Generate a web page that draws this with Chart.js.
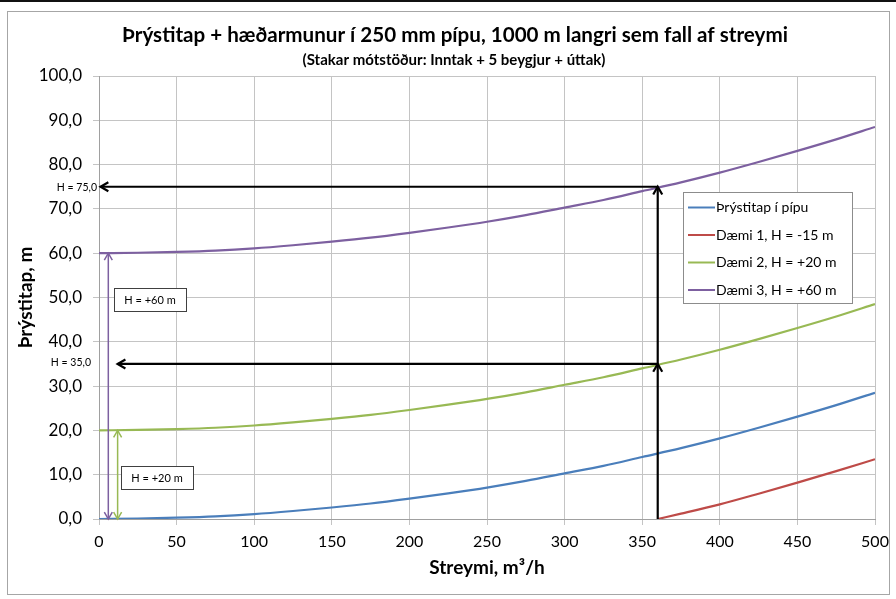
<!DOCTYPE html>
<html>
<head>
<meta charset="utf-8">
<script src="https://cdn.jsdelivr.net/npm/chart.js@4.4.1/dist/chart.umd.min.js"></script>
<style>
  html, body { margin: 0; padding: 0; background: #ffffff; }
  #wrap { width: 896px; height: 599px; position: relative; }
</style>
</head>
<body>
<div id="wrap"><canvas id="chart" width="896" height="599"></canvas></div>
<script>
// Flow rate (m3/h) at which the curves are sampled
const flow = [0, 25, 50, 75, 100, 125, 150, 175, 200, 225, 250, 275, 300, 325, 350, 375, 400, 425, 450, 475, 500];
// Friction head loss in the pipe (m)
const pipeLoss = [0.0, 0.1, 0.3, 0.6, 1.1, 1.8, 2.6, 3.5, 4.6, 5.8, 7.1, 8.6, 10.3, 12.0, 14.0, 16.0, 18.2, 20.6, 23.1, 25.7, 28.5];
// Example 1, H = -15 m (only positive from 360 m3/h)
const ex1Flow = [360, 375, 400, 425, 450, 475, 500];
const ex1Head = [0.0, 1.2, 3.3, 5.7, 8.2, 10.8, 13.5];
// Example 2, H = +20 m
const ex2Head = [20.0, 20.1, 20.3, 20.6, 21.1, 21.8, 22.6, 23.5, 24.6, 25.8, 27.1, 28.6, 30.3, 32.0, 34.0, 36.0, 38.2, 40.6, 43.1, 45.7, 48.5];
// Example 3, H = +60 m
const ex3Head = [60.0, 60.1, 60.3, 60.6, 61.1, 61.8, 62.6, 63.5, 64.6, 65.8, 67.1, 68.6, 70.3, 72.0, 74.0, 76.0, 78.2, 80.6, 83.1, 85.7, 88.5];

const seriesLabels = ['Þrýstitap í pípu', 'Dæmi 1, H = -15 m', 'Dæmi 2, H = +20 m', 'Dæmi 3, H = +60 m'];
const seriesColors = ['#4a7ebb', '#be4b48', '#98b954', '#7d60a0'];

const xTicks = [0, 50, 100, 150, 200, 250, 300, 350, 400, 450, 500];
const yTicks = [0, 10, 20, 30, 40, 50, 60, 70, 80, 90, 100];

const operatingFlow = 360;
const readHeads = [35, 75];
const readLabels = ['H = 35,0', 'H = 75,0'];
// Static head markers: flow position, head, label
const staticMarks = [
  { x: 6, h: 60, label: 'H = +60 m', color: '#7d60a0' },
  { x: 12, h: 20, label: 'H = +20 m', color: '#98b954' }
];

const titleText = 'Þrýstitap + hæðarmunur í 250 mm pípu, 1000 m langri sem fall af streymi';
const subtitleText = '(Stakar mótstöður: Inntak + 5 beygjur + úttak)';
const xTitle = 'Streymi, m³/h';
const yTitle = 'Þrýstitap, m';

const FONT = 'Lato, "Open Sans", sans-serif';
const fmt = v => v.toFixed(1).replace('.', ',');
const pts = (xs, ys) => xs.map((x, i) => ({ x: x, y: ys[i] }));

function arrowHead(ctx, x1, y1, x2, y2, len) {
  const a = Math.atan2(y2 - y1, x2 - x1);
  const s = Math.PI / 6;
  ctx.beginPath();
  ctx.moveTo(x2 - len * Math.cos(a - s), y2 - len * Math.sin(a - s));
  ctx.lineTo(x2, y2);
  ctx.lineTo(x2 - len * Math.cos(a + s), y2 - len * Math.sin(a + s));
  ctx.stroke();
}
function arrow(ctx, x1, y1, x2, y2, opts) {
  ctx.save();
  ctx.strokeStyle = opts.color;
  ctx.lineWidth = opts.width;
  ctx.lineCap = 'butt';
  ctx.lineJoin = 'miter';
  ctx.beginPath();
  ctx.moveTo(x1, y1);
  ctx.lineTo(x2, y2);
  ctx.stroke();
  arrowHead(ctx, x1, y1, x2, y2, opts.head);
  if (opts.both) arrowHead(ctx, x2, y2, x1, y1, opts.head);
  ctx.restore();
}
function labelBox(ctx, cx, cy, text, w, h) {
  ctx.save();
  ctx.fillStyle = '#ffffff';
  ctx.fillRect(cx - w / 2, cy - h / 2, w, h);
  ctx.strokeStyle = '#404040';
  ctx.lineWidth = 1;
  ctx.strokeRect(Math.round(cx - w / 2) + 0.5, Math.round(cy - h / 2) + 0.5, w, h);
  ctx.fillStyle = '#000000';
  ctx.font = '11px ' + FONT;
  ctx.textAlign = 'center';
  ctx.textBaseline = 'middle';
  ctx.fillText(text, cx, cy + 0.5);
  ctx.restore();
}

const decorations = {
  id: 'decorations',
  beforeDraw(chart) {
    const ctx = chart.ctx;
    ctx.save();
    ctx.fillStyle = '#ffffff';
    ctx.fillRect(0, 0, chart.width, chart.height);
    ctx.fillStyle = '#111111';
    ctx.fillRect(0, 0, chart.width, 2);
    ctx.strokeStyle = '#a6a6a6';
    ctx.lineWidth = 1;
    ctx.strokeRect(7.5, 11.5, 882, 583);
    ctx.fillStyle = '#000000';
    ctx.textAlign = 'center';
    ctx.textBaseline = 'alphabetic';
    ctx.font = 'bold 20.6px ' + FONT;
    ctx.fillText(titleText, 455, 42);
    ctx.font = 'bold 15px ' + FONT;
    ctx.fillText(subtitleText, 454, 65);
    const a = chart.chartArea;
    ctx.font = 'bold 19px ' + FONT;
    ctx.textBaseline = 'middle';
    ctx.fillText(xTitle, (a.left + a.right) / 2, 568);
    ctx.translate(26, (a.top + a.bottom) / 2);
    ctx.rotate(-Math.PI / 2);
    ctx.fillText(yTitle, 0, 0);
    ctx.restore();
  },
  afterDatasetsDraw(chart) {
    const ctx = chart.ctx;
    const xs = chart.scales.x, ys = chart.scales.y;
    const a = chart.chartArea;
    const px = xs.getPixelForValue(operatingFlow);
    const y0 = ys.getPixelForValue(0);
    const black = { color: '#000000', width: 2.2, head: 9 };

    // vertical arrows up to the read-off heads
    const yLow = ys.getPixelForValue(readHeads[0]);
    const yHigh = ys.getPixelForValue(readHeads[1]);
    arrow(ctx, px, y0, px, yLow, black);
    arrow(ctx, px, yLow, px, yHigh, black);
    // horizontal arrows to the head axis
    arrow(ctx, px, yHigh, xs.getPixelForValue(1), yHigh, black);
    arrow(ctx, px, yLow, xs.getPixelForValue(12), yLow, black);

    ctx.save();
    ctx.fillStyle = '#000000';
    ctx.font = '10.5px ' + FONT;
    ctx.textAlign = 'right';
    ctx.textBaseline = 'middle';
    ctx.fillText(readLabels[1], a.left - 2, yHigh + 1);
    ctx.fillText(readLabels[0], a.left - 8, yLow - 1);
    ctx.restore();

    // static head markers
    staticMarks.forEach(m => {
      const x = xs.getPixelForValue(m.x);
      arrow(ctx, x, y0, x, ys.getPixelForValue(m.h), { color: m.color, width: 1.5, head: 8, both: true });
    });
    labelBox(ctx, 150, 299.5, staticMarks[0].label, 72, 23);
    labelBox(ctx, 157, 477.5, staticMarks[1].label, 72, 23);

    // legend box
    ctx.save();
    ctx.fillStyle = '#ffffff';
    ctx.fillRect(683, 192, 169, 111);
    ctx.strokeStyle = '#8c8c8c';
    ctx.lineWidth = 1;
    ctx.strokeRect(683.5, 192.5, 169, 111);
    ctx.font = '14px ' + FONT;
    ctx.textAlign = 'left';
    ctx.textBaseline = 'middle';
    chart.data.datasets.forEach((ds, i) => {
      const yy = 207.5 + i * 27.5;
      ctx.strokeStyle = ds.borderColor;
      ctx.lineWidth = 2;
      ctx.beginPath();
      ctx.moveTo(688, yy);
      ctx.lineTo(715, yy);
      ctx.stroke();
      ctx.fillStyle = '#000000';
      ctx.fillText(ds.label, 716, yy);
    });
    ctx.restore();
  }
};

const lineStyle = (label, color, data) => ({
  label: label,
  data: data,
  borderColor: color,
  backgroundColor: color,
  borderWidth: 2.2,
  pointRadius: 0,
  cubicInterpolationMode: 'monotone',
  fill: false
});

new Chart(document.getElementById('chart'), {
  type: 'line',
  data: {
    datasets: [
      lineStyle(seriesLabels[0], seriesColors[0], pts(flow, pipeLoss)),
      lineStyle(seriesLabels[1], seriesColors[1], pts(ex1Flow, ex1Head)),
      lineStyle(seriesLabels[2], seriesColors[2], pts(flow, ex2Head)),
      lineStyle(seriesLabels[3], seriesColors[3], pts(flow, ex3Head))
    ]
  },
  options: {
    responsive: false,
    devicePixelRatio: 1,
    animation: false,
    layout: { padding: { top: 76, right: 21, left: 0, bottom: 0 } },
    plugins: {
      legend: { display: false },
      title: { display: false },
      tooltip: { enabled: false }
    },
    scales: {
      x: {
        type: 'linear',
        min: 0, max: 500,
        afterBuildTicks: s => { s.ticks = xTicks.map(v => ({ value: v })); },
        afterFit: s => { s.height = 80; },
        grid: { color: '#c4c4c4', tickLength: 6, lineWidth: 1 },
        border: { color: '#a0a0a0' },
        ticks: { color: '#000000', font: { family: FONT, size: 16 }, padding: 7, maxRotation: 0 }
      },
      y: {
        type: 'linear',
        min: 0, max: 100,
        afterBuildTicks: s => { s.ticks = yTicks.map(v => ({ value: v })); },
        afterFit: s => { s.width = 99; },
        grid: { color: '#c4c4c4', tickLength: 6, lineWidth: 1 },
        border: { color: '#a0a0a0' },
        ticks: { color: '#000000', font: { family: FONT, size: 17 }, padding: 11, callback: v => fmt(v) }
      }
    }
  },
  plugins: [decorations]
});
</script>
</body>
</html>
